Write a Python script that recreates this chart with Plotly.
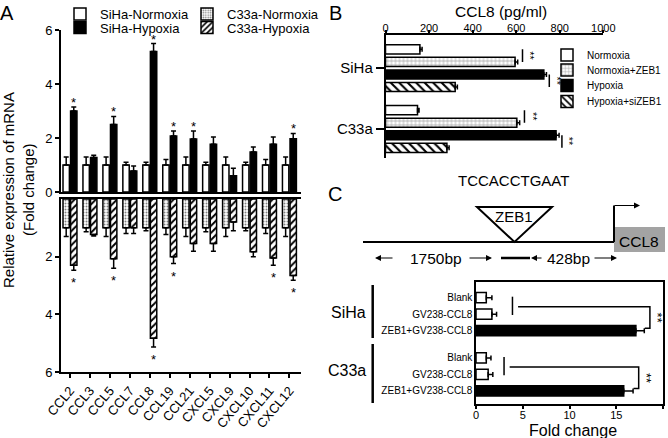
import plotly.graph_objects as go

W, H = 668, 438
FONT = "Arial, Liberation Sans, Helvetica, sans-serif"


def px(x):
    return x / W


def py(y):
    return 1 - y / H


# ---------------- Panel A data ----------------
chemokines = ["CCL2", "CCL3", "CCL5", "CCL7", "CCL8", "CCL19", "CCL21",
              "CXCL5", "CXCL9", "CXCL10", "CXCL11", "CXCL12"]
siha_normoxia = [1.0, 1.0, 1.0, 1.0, 1.0, 1.0, 1.0, 1.0, 1.0, 1.0, 1.0, 1.0]
siha_normoxia_err = [0.3, 0.3, 0.3, 0.1, 0.1, 0.2, 0.3, 0.1, 0.3, 0.1, 0.2, 0.3]
siha_hypoxia = [3.0, 1.28, 2.5, 0.78, 5.2, 2.07, 1.96, 1.77, 0.6, 1.48, 1.77, 1.97]
siha_hypoxia_err = [0.15, 0.08, 0.3, 0.18, 0.3, 0.19, 0.3, 0.27, 0.28, 0.19, 0.27, 0.2]
siha_signif = [True, False, True, False, True, True, True, False, False, False, False, True]

c33a_normoxia = [1.0, 1.0, 1.0, 1.0, 1.0, 1.0, 1.0, 1.0, 1.0, 1.0, 1.0, 1.0]
c33a_normoxia_err = [0.3, 0.14, 0.3, 0.2, 0.1, 0.23, 0.3, 0.14, 0.3, 0.1, 0.2, 0.3]
c33a_hypoxia = [2.3, 1.23, 2.07, 1.0, 4.83, 2.0, 1.54, 1.54, 0.8, 1.83, 2.05, 2.65]
c33a_hypoxia_err = [0.17, 0.05, 0.33, 0.2, 0.3, 0.24, 0.27, 0.27, 0.3, 0.17, 0.25, 0.17]
c33a_signif = [True, False, True, False, True, True, False, False, False, False, True, True]

# ---------------- Panel B data ----------------
b_cells = ["SiHa", "C33a"]
b_conditions = ["Normoxia", "Normoxia+ZEB1", "Hypoxia", "Hypoxia+siZEB1"]
b_values = {
    "Normoxia": [158, 147],
    "Normoxia+ZEB1": [595, 603],
    "Hypoxia": [727, 783],
    "Hypoxia+siZEB1": [320, 282],
}
b_errors = {
    "Normoxia": [10, 7],
    "Normoxia+ZEB1": [12, 13],
    "Hypoxia": [12, 14],
    "Hypoxia+siZEB1": [10, 10],
}

# ---------------- Panel C data ----------------
c_cells = ["SiHa", "C33a"]
c_constructs = ["Blank", "GV238-CCL8", "ZEB1+GV238-CCL8"]
c_fold = {"SiHa": [1.1, 1.7, 17.1], "C33a": [1.1, 1.3, 15.8]}
c_fold_err = {"SiHa": [0.6, 0.5, 0.9], "C33a": [0.5, 0.5, 1.0]}

# ======================================================
fig = go.Figure()
BLACK = "black"

idx = list(range(len(chemokines)))
err_style = dict(type="data", symmetric=False, color=BLACK, thickness=1.5, width=2.5)

# Panel A upper (SiHa)
fig.add_trace(go.Bar(
    x=idx, y=siha_normoxia, name="SiHa-Normoxia", xaxis="x", yaxis="y",
    offset=-0.35, width=0.32,
    marker=dict(color="white", line=dict(color=BLACK, width=1.5)),
    error_y=dict(array=siha_normoxia_err, arrayminus=[0] * 12, **err_style),
    legend="legend",
))
fig.add_trace(go.Bar(
    x=idx, y=siha_hypoxia, name="SiHa-Hypoxia", xaxis="x", yaxis="y",
    offset=0.03, width=0.32,
    marker=dict(color=BLACK, line=dict(color=BLACK, width=1.5)),
    error_y=dict(array=siha_hypoxia_err, arrayminus=[0] * 12, **err_style),
    legend="legend2",
))
# Panel A lower (C33a)
fig.add_trace(go.Bar(
    x=idx, y=c33a_normoxia, name="C33a-Normoxia", xaxis="x2", yaxis="y2",
    offset=-0.35, width=0.32,
    marker=dict(color="white", line=dict(color=BLACK, width=1.5),
                pattern=dict(shape=".", fgcolor="#808080", bgcolor="white",
                             size=3, solidity=0.35)),
    error_y=dict(array=c33a_normoxia_err, arrayminus=[0] * 12, **err_style),
    legend="legend3",
))
fig.add_trace(go.Bar(
    x=idx, y=c33a_hypoxia, name="C33a-Hypoxia", xaxis="x2", yaxis="y2",
    offset=0.03, width=0.32,
    marker=dict(color="white", line=dict(color=BLACK, width=1.5),
                pattern=dict(shape="/", fgcolor=BLACK, bgcolor="white",
                             size=5, solidity=0.4)),
    error_y=dict(array=c33a_hypoxia_err, arrayminus=[0] * 12, **err_style),
    legend="legend4",
))

# Panel B horizontal bars
b_styles = {
    "Normoxia": dict(color="white", line=dict(color=BLACK, width=1.5)),
    "Normoxia+ZEB1": dict(color="white", line=dict(color=BLACK, width=1.5),
                          pattern=dict(shape="+", fgcolor="#9a9a9a", bgcolor="white",
                                       size=4, solidity=0.3)),
    "Hypoxia": dict(color=BLACK, line=dict(color=BLACK, width=1.5)),
    "Hypoxia+siZEB1": dict(color="white", line=dict(color=BLACK, width=1.5),
                           pattern=dict(shape="\\", fgcolor=BLACK, bgcolor="white",
                                        size=6, solidity=0.35)),
}
b_rel = [-0.31, -0.103, 0.103, 0.31]
b_w = 0.15
b_pos = list(range(len(b_cells)))
for k, cond in enumerate(b_conditions):
    fig.add_trace(go.Bar(
        x=b_values[cond], y=b_pos, orientation="h", name=cond,
        xaxis="x3", yaxis="y3", offset=b_rel[k] - b_w / 2, width=b_w,
        marker=b_styles[cond],
        error_x=dict(array=b_errors[cond], arrayminus=[0, 0], **err_style),
        legend=f"legend{5 + k}",
    ))

# Panel C horizontal bars
c_group_step = 3.65
c_y, c_x, c_e, c_lab = [], [], [], []
for g, cell in enumerate(c_cells):
    for k, lab in enumerate(c_constructs):
        c_y.append(g * c_group_step + k)
        c_x.append(c_fold[cell][k])
        c_e.append(c_fold_err[cell][k])
        c_lab.append(lab)
c_color = ["white", "white", BLACK] * 2
c_shape = ["", "/", ""] * 2
fig.add_trace(go.Bar(
    x=c_x, y=c_y, orientation="h", xaxis="x4", yaxis="y4", width=0.62,
    marker=dict(color=c_color, line=dict(color=BLACK, width=1.5),
                pattern=dict(shape=c_shape, fgcolor=BLACK, bgcolor=c_color,
                             size=5, solidity=0.4)),
    error_x=dict(array=c_e, arrayminus=[0] * len(c_e), **err_style),
    showlegend=False,
))

# ======================================================
ann = []
shapes = []

# stars panel A
for i in idx:
    if siha_signif[i]:
        ann.append(dict(x=i + 0.19, y=siha_hypoxia[i] + siha_hypoxia_err[i],
                        xref="x", yref="y", text="*", showarrow=False,
                        yanchor="bottom", yshift=-5, font=dict(size=13, color=BLACK)))
    if c33a_signif[i]:
        ann.append(dict(x=i + 0.19, y=c33a_hypoxia[i] + c33a_hypoxia_err[i],
                        xref="x2", yref="y2", text="*", showarrow=False,
                        yanchor="top", yshift=-3, font=dict(size=13, color=BLACK)))

# panel B brackets
for g in b_pos:
    for (a, b, gap) in [(0, 1, 22), (2, 3, 13)]:
        ca, cb = b_conditions[a], b_conditions[b]
        xm = max(b_values[ca][g] + b_errors[ca][g], b_values[cb][g] + b_errors[cb][g]) + gap
        shapes.append(dict(type="line", xref="x3", yref="y3", x0=xm, x1=xm,
                           y0=g + b_rel[a], y1=g + b_rel[b],
                           line=dict(color=BLACK, width=1.5)))
        ann.append(dict(x=xm, y=g + (b_rel[a] + b_rel[b]) / 2, xref="x3", yref="y3",
                        text="**", textangle=90, showarrow=False, xshift=8,
                        font=dict(size=11, color=BLACK)))

# panel C brackets
c_left = [3.9, 3.0]
for g, cell in enumerate(c_cells):
    base = g * c_group_step
    right = c_fold[cell][2] + c_fold_err[cell][2] + 0.6
    lx = c_left[g]
    shapes.append(dict(type="line", xref="x4", yref="y4", x0=lx, x1=lx,
                       y0=base - 0.06, y1=base + 1.05, line=dict(color=BLACK, width=1.5)))
    shapes.append(dict(type="path", xref="x4", yref="y4",
                       path=f"M {lx + 0.6} {base + 0.55} L {right} {base + 0.55} "
                            f"L {right} {base + 1.85} L {right - 0.55} {base + 1.85}",
                       line=dict(color=BLACK, width=1.5)))
    ann.append(dict(x=right, y=base + 1.2, xref="x4", yref="y4", text="**",
                    textangle=90, showarrow=False, xshift=8,
                    font=dict(size=13, color=BLACK)))


def text(x, y, s, size, **kw):
    d = dict(x=px(x), y=py(y), xref="paper", yref="paper", text=s, showarrow=False,
             font=dict(size=size, color=BLACK), xanchor="center", yanchor="middle")
    d.update(kw)
    ann.append(d)


# panel letters
text(7, 13, "A", 20)
text(335, 13, "B", 20)
text(335, 194, "C", 20)

# panel A axis title
text(8, 190, "Relative expression of mRNA", 15, textangle=-90)
text(28, 190, "(Fold change)", 15, textangle=-90)

# panel B title
text(501, 11, "CCL8 (pg/ml)", 15.5)

# panel C diagram
text(513, 181, "TCCACCTGAAT", 15)
text(514, 216, "ZEB1", 15)
text(436, 258, "1750bp", 15.5)
text(568, 258, "428bp", 15.5)
text(639, 241, "CCL8", 15.5)
text(573, 430, "Fold change", 16)
text(368, 312, "SiHa", 16, xanchor="right")
text(368, 370, "C33a", 16, xanchor="right")


def line(x0, y0, x1, y1, w=2):
    shapes.append(dict(type="line", xref="paper", yref="paper",
                       x0=px(x0), y0=py(y0), x1=px(x1), y1=py(y1),
                       line=dict(color=BLACK, width=w)))


def arrow(xh, yh, xt, yt):
    ann.append(dict(x=px(xh), y=py(yh), xref="paper", yref="paper", text="",
                    showarrow=True, ax=xt - xh, ay=yt - yh, arrowhead=2,
                    arrowsize=1, arrowwidth=1.2, arrowcolor=BLACK))


shapes.append(dict(type="rect", xref="paper", yref="paper",
                   x0=px(614), x1=px(665), y0=py(252), y1=py(227),
                   fillcolor="#a3a3a3", line=dict(width=0), layer="below"))
line(363, 242, 614, 242)
line(614, 242, 614, 205.5)
shapes.append(dict(type="path", xref="paper", yref="paper",
                   path=f"M {px(477)} {py(207)} L {px(552)} {py(207)} L {px(514.5)} {py(242)} Z",
                   line=dict(color=BLACK, width=2)))
line(501, 258, 530, 258, 2.5)
arrow(640, 205.5, 613, 205.5)
arrow(375, 258, 394, 258)
arrow(492, 258, 468, 258)
arrow(531, 258, 543, 258)
arrow(617, 258, 593, 258)
line(372.7, 285, 372.7, 338, 2.5)
line(372.7, 344, 372.7, 403, 2.5)

axis_common = dict(showgrid=False, zeroline=False, linecolor=BLACK, color=BLACK,
                   tickcolor=BLACK, showline=True, automargin=False)


def leg(x, yc, size, **kw):
    d = dict(x=px(x), y=py(yc), xanchor="left", yanchor="middle",
             font=dict(size=size, color=BLACK), bgcolor="rgba(0,0,0,0)",
             borderwidth=0)
    d.update(kw)
    return d


legends = {
    "legend": leg(60, 14, 13),
    "legend2": leg(60, 27.5, 13),
    "legend3": leg(187, 14, 13),
    "legend4": leg(187, 27.5, 13),
    "legend5": leg(547, 55, 10),
    "legend6": leg(547, 70, 10),
    "legend7": leg(547, 85.5, 10),
    "legend8": leg(547, 101.5, 10),
}

fig.update_layout(
    template="none",
    width=W, height=H, autosize=False,
    margin=dict(l=0, r=0, t=0, b=0, pad=0, autoexpand=False),
    paper_bgcolor="white", plot_bgcolor="white",
    font=dict(family=FONT, color=BLACK),
    barmode="overlay",
    xaxis=dict(domain=[px(61), px(301)], anchor="y", range=[-0.45, 11.58],
               showticklabels=False, ticks="", linewidth=2, **axis_common),
    yaxis=dict(domain=[py(192), py(30)], anchor="x", range=[0, 6],
               tickvals=[0, 2, 4, 6], ticks="outside", ticklen=4, tickwidth=1.5,
               linewidth=2, tickfont=dict(size=13), **axis_common),
    xaxis2=dict(domain=[px(61), px(301)], anchor="y2", range=[-0.45, 11.58],
                tickvals=idx, ticktext=chemokines, tickangle=-50, ticks="outside",
                ticklen=4, tickwidth=1.5, linewidth=2, mirror=True,
                tickfont=dict(size=13), **axis_common),
    yaxis2=dict(domain=[py(372), py(199)], anchor="x2", range=[6, 0],
                tickvals=[2, 4, 6], ticks="outside", ticklen=4, tickwidth=1.5,
                linewidth=2, tickfont=dict(size=13), **axis_common),
    xaxis3=dict(domain=[px(385.5), px(603.3)], anchor="y3", side="top",
                range=[0, 1000], tickvals=[0, 200, 400, 600, 800, 1000],
                ticks="outside", ticklen=3, tickwidth=1.5, linewidth=1.5,
                ticklabelstandoff=-6, tickfont=dict(size=11), **axis_common),
    yaxis3=dict(domain=[py(158), py(35)], anchor="x3", range=[1.477, -0.546],
                tickvals=b_pos, ticktext=b_cells, ticks="outside", ticklen=8,
                tickwidth=1.5, linewidth=1.5, tickfont=dict(size=15), **axis_common),
    xaxis4=dict(domain=[px(476), px(663)], anchor="y4", range=[0, 20],
                tickvals=[0, 5, 10, 15, 20], ticks="outside", ticklen=3,
                tickwidth=1.5, linewidth=1.5, mirror=True, ticklabelstandoff=-3,
                tickfont=dict(size=11), **axis_common),
    yaxis4=dict(domain=[py(404), py(282)], anchor="x4", range=[6.44, -0.95],
                tickvals=c_y, ticktext=c_lab, ticks="", linewidth=1.5, mirror=True,
                tickfont=dict(size=10), **axis_common),
    annotations=ann,
    shapes=shapes,
    **legends,
)

fig.write_html("out.html", config={"displayModeBar": False},
               post_script="document.body.style.margin='0px';document.body.style.padding='0px';")
